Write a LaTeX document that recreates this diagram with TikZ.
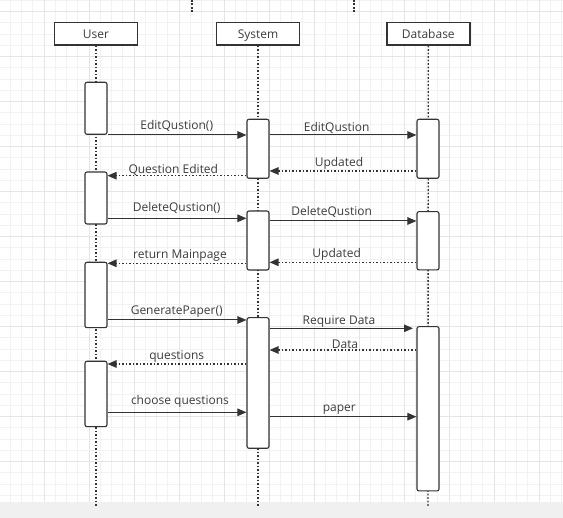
\documentclass[tikz,border=0pt]{standalone}
\usepackage{fontspec}
\setmainfont{Open Sans}
\usetikzlibrary{arrows.meta}
\definecolor{ink}{HTML}{333333}
\definecolor{txt}{HTML}{3C3C3C}
\definecolor{gminor}{HTML}{F2F2F2}
\definecolor{gmajor}{HTML}{E5E5E5}
\definecolor{strip}{HTML}{F0F0F0}
\tikzset{
  header/.style={draw=ink, line width=1.4pt, fill=white, minimum width=83pt, minimum height=22.5pt, inner sep=0pt, text height=8.7pt, text depth=0pt, font=\fontsize{12}{14}\selectfont, text=txt},
  actbar/.style={draw=ink, line width=1.1pt, fill=white, rounded corners=2pt, minimum width=22pt, inner sep=0pt},
  lifeline/.style={draw=ink, line width=1.4pt, dash pattern=on 1.6pt off 1.9pt},
  msg/.style={draw=ink, line width=1pt, -{Triangle[length=9pt,width=7.5pt]}},
  ret/.style={msg, dash pattern=on 1.6pt off 1.9pt, line width=1.2pt},
  lbl/.style={anchor=base, inner sep=0pt, font=\fontsize{12}{14}\selectfont, text=txt},
}
\begin{document}
\begin{tikzpicture}[x=1pt,y=-1pt]
\useasboundingbox (0,0) rectangle (563,518);
\fill[white] (0,0) rectangle (563,502);
% grid
\foreach \i in {0,...,50} { \draw[gminor, line width=0.9pt] ({-1+11.25*\i},0) -- ({-1+11.25*\i},502); }
\foreach \j in {0,...,44} { \draw[gminor, line width=0.9pt] (0,{0.45+11.25*\j}) -- (563,{0.45+11.25*\j}); }
\foreach \i in {0,...,12} { \draw[gmajor, line width=0.9pt] ({-1+45*\i},0) -- ({-1+45*\i},502); }
\foreach \j in {0,...,10} { \draw[gmajor, line width=0.9pt] (0,{11.7+45*\j}) -- (563,{11.7+45*\j}); }
\fill[strip] (0,502) rectangle (563,518);

% top cut-off lifelines
\coordinate (ta1) at (192,0); \coordinate (tb1) at (192,14);
\coordinate (ta2) at (354,0); \coordinate (tb2) at (354,14);
\draw[lifeline] (ta1) -- (tb1);
\draw[lifeline] (ta2) -- (tb2);

% headers
\node[header] (user) at (96,33.8) {User};
\node[header] (sys) at (258,33.8) {System};
\node[header] (db) at (428.3,33.8) {Database};

% lifeline ends
\coordinate (ue) at (96,507);
\coordinate (se) at (258,507);
\coordinate (de) at (428,507);
\draw[lifeline] (user.south) -- (ue);
\draw[lifeline] (sys.south) -- (se);
\draw[lifeline] (db.south) -- (de);

% activation bars
\node[actbar, minimum height=52pt] (U1) at (96,108.3) {};
\node[actbar, minimum height=52pt] (U2) at (96,198) {};
\node[actbar, minimum height=65.4pt] (U3) at (96,295) {};
\node[actbar, minimum height=65.4pt] (U4) at (96,394) {};
\node[actbar, minimum height=59pt] (S1) at (258,148.8) {};
\node[actbar, minimum height=59pt] (S2) at (258,240.5) {};
\node[actbar, minimum height=130.6pt] (S3) at (258,383) {};
\node[actbar, minimum height=59pt] (D1) at (428,148.8) {};
\node[actbar, minimum height=58.3pt] (D2) at (428,240.8) {};
\node[actbar, minimum height=164.3pt] (D3) at (428,408.8) {};

% message heights
\coordinate (y1) at (0,135);
\coordinate (y2) at (0,135);
\coordinate (y3) at (0,171);
\coordinate (y4) at (0,175.7);
\coordinate (y5) at (0,218.3);
\coordinate (y6) at (0,221);
\coordinate (y7) at (0,262.3);
\coordinate (y8) at (0,263.3);
\coordinate (y9) at (0,320);
\coordinate (y10) at (0,328.3);
\coordinate (y11) at (0,350);
\coordinate (y12) at (0,364);
\coordinate (y13) at (0,412.3);
\coordinate (y14) at (0,416.7);
\coordinate (gap) at (413,0);

% messages
\draw[msg] (U1.east |- y1) -- (S1.west |- y1);
\draw[msg] (S1.east |- y2) -- (D1.west |- y2);
\draw[ret] (D1.west |- y3) -- (S1.east |- y3);
\draw[ret] (S1.west |- y4) -- (U2.east |- y4);
\draw[msg] (U2.east |- y5) -- (S2.west |- y5);
\draw[msg] (S2.east |- y6) -- (D2.west |- y6);
\draw[ret] (D2.west |- y7) -- (S2.east |- y7);
\draw[ret] (S2.west |- y8) -- (U3.east |- y8);
\draw[msg] (U3.east |- y9) -- (S3.west |- y9);
\draw[msg] (S3.east |- y10) -- (gap |- y10);
\draw[ret] (D3.west |- y11) -- (S3.east |- y11);
\draw[ret] (S3.west |- y12) -- (U4.east |- y12);
\draw[msg] (U4.east |- y13) -- (S3.west |- y13);
\draw[msg] (S3.east |- y14) -- (D3.west |- y14);

% labels
\node[lbl] (l1) at (176.7,129.3) {EditQustion()};
\node[lbl] (l2) at (336.7,131.7) {EditQustion};
\node[lbl] (l3) at (339,166.8) {Updated};
\node[lbl] (l4) at (173.3,173.3) {Question Edited};
\node[lbl] (l5) at (176.7,211.7) {DeleteQustion()};
\node[lbl] (l6) at (331.7,216) {DeleteQustion};
\node[lbl] (l7) at (336.7,258) {Updated};
\node[lbl] (l8) at (180,258.3) {return Mainpage};
\node[lbl] (l9) at (176.7,315) {GeneratePaper()};
\node[lbl] (l10) at (339,324.3) {Require Data};
\node[lbl] (l11) at (345,348.3) {Data};
\node[lbl] (l12) at (176.7,359.3) {questions};
\node[lbl] (l13) at (180,405) {choose questions};
\node[lbl] (l14) at (339.3,411.7) {paper};
\end{tikzpicture}
\end{document}
